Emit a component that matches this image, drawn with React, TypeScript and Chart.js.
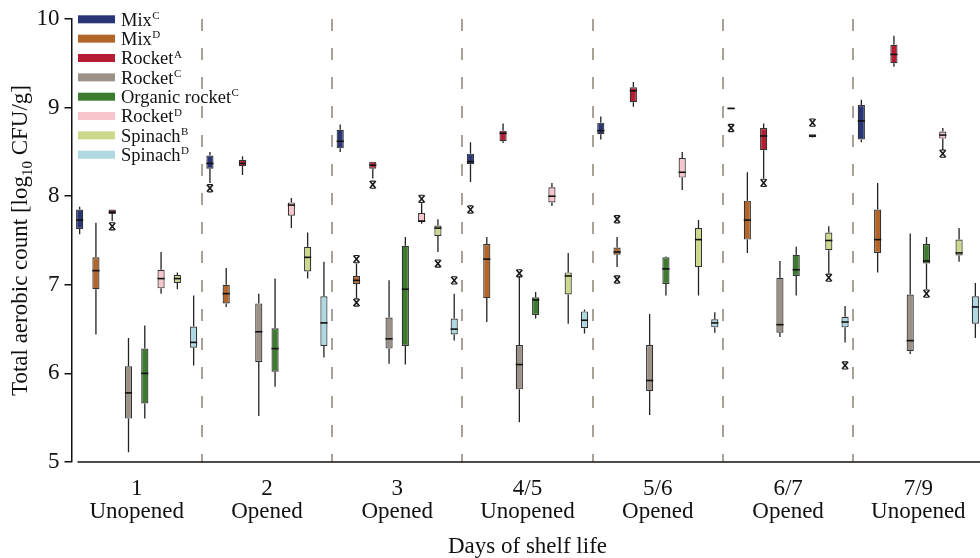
import React, { useEffect, useRef } from "react";
import { Chart, registerables } from "chart.js";

Chart.register(...registerables);

// ---------- data ----------
const dayLabels = ["1", "2", "3", "4/5", "5/6", "6/7", "7/9"];
const stateLabels = ["Unopened", "Opened", "Opened", "Unopened", "Opened", "Opened", "Unopened"];

const seriesNames = ["Mix", "Mix", "Rocket", "Rocket", "Organic rocket", "Rocket", "Spinach", "Spinach"];
const seriesSups = ["C", "D", "A", "C", "C", "D", "B", "D"];
const seriesColors = ["#2a3578", "#b4662a", "#b81c33", "#9c9186", "#3d7b2f", "#f7c5cb", "#cbd98b", "#aed8e2"];

const yTickValues = [5, 6, 7, 8, 9, 10];

// each box: [whiskerLow, q1, median, q3, whiskerHigh]
const mixC = [
  [7.57, 7.63, 7.73, 7.85, 7.88],
  [8.15, 8.31, 8.37, 8.46, 8.5],
  [8.5, 8.54, 8.62, 8.75, 8.81],
  [8.16, 8.36, 8.39, 8.48, 8.61],
  [8.64, 8.7, 8.74, 8.83, 8.9],
  [8.985, 8.985, 8.99, 9.0, 9.0],
  [8.61, 8.64, 8.85, 9.03, 9.09],
];
const mixCOut = [[], [8.09], [], [7.85], [], [8.77], []];

const mixD = [
  [6.44, 6.95, 7.16, 7.31, 7.7],
  [6.75, 6.79, 6.9, 7.0, 7.19],
  [6.85, 7.01, 7.05, 7.1, 7.24],
  [6.58, 6.85, 7.29, 7.46, 7.54],
  [7.2, 7.34, 7.37, 7.42, 7.54],
  [7.36, 7.51, 7.73, 7.95, 8.27],
  [7.14, 7.36, 7.51, 7.85, 8.15],
];
const mixDOut = [[], [], [7.29, 6.8], [], [7.74, 7.06], [], []];

const rocketA = [
  [7.72, 7.8, 7.82, 7.85, 7.85],
  [8.24, 8.34, 8.37, 8.41, 8.45],
  [8.2, 8.31, 8.35, 8.39, 8.39],
  [8.6, 8.62, 8.71, 8.74, 8.82],
  [9.01, 9.06, 9.19, 9.23, 9.29],
  [8.2, 8.52, 8.68, 8.77, 8.82],
  [9.46, 9.5, 9.6, 9.71, 9.81],
];
const rocketAOut = [[7.66], [], [8.13], [], [], [8.15], []];

const rocketC = [
  [5.11, 5.49, 5.78, 6.08, 6.4],
  [5.52, 6.13, 6.47, 6.79, 6.9],
  [6.11, 6.28, 6.39, 6.63, 7.05],
  [5.45, 5.82, 6.1, 6.32, 7.1],
  [5.53, 5.8, 5.92, 6.32, 6.67],
  [6.41, 6.46, 6.55, 7.08, 7.27],
  [6.22, 6.25, 6.37, 6.89, 7.58],
];
const rocketCOut = [[], [], [], [7.13], [], [], []];

const organicRocketC = [
  [5.49, 5.66, 6.0, 6.28, 6.54],
  [5.85, 6.02, 6.28, 6.51, 7.07],
  [6.1, 6.31, 6.95, 7.44, 7.54],
  [6.62, 6.66, 6.83, 6.86, 6.92],
  [6.88, 7.01, 7.18, 7.31, 7.32],
  [6.88, 7.1, 7.17, 7.34, 7.43],
  [6.95, 7.24, 7.27, 7.46, 7.54],
];
const organicRocketCOut = [[], [], [], [], [], [], [6.9]];

const rocketD = [
  [6.9, 6.96, 7.07, 7.17, 7.37],
  [7.64, 7.78, 7.9, 7.93, 7.98],
  [7.69, 7.71, 7.72, 7.81, 7.92],
  [7.89, 7.93, 8.0, 8.1, 8.15],
  [8.07, 8.21, 8.27, 8.43, 8.5],
  [8.66, 8.665, 8.68, 8.7, 8.7],
  [8.52, 8.65, 8.69, 8.73, 8.77],
];
const rocketDOut = [[], [], [7.97], [], [], [8.83], [8.48]];

const spinachB = [
  [6.95, 7.02, 7.07, 7.11, 7.14],
  [7.07, 7.15, 7.31, 7.43, 7.59],
  [7.37, 7.55, 7.64, 7.67, 7.74],
  [6.56, 6.89, 7.1, 7.14, 7.36],
  [6.88, 7.2, 7.51, 7.64, 7.73],
  [7.13, 7.39, 7.5, 7.59, 7.66],
  [7.26, 7.33, 7.36, 7.51, 7.64],
];
const spinachBOut = [[], [], [7.24], [], [], [7.08], []];

const spinachD = [
  [6.09, 6.29, 6.35, 6.53, 6.88],
  [6.18, 6.31, 6.57, 6.87, 7.26],
  [6.37, 6.44, 6.5, 6.62, 6.9],
  [6.45, 6.51, 6.6, 6.7, 6.72],
  [6.46, 6.52, 6.57, 6.61, 6.69],
  [6.35, 6.52, 6.58, 6.64, 6.76],
  [6.4, 6.56, 6.75, 6.87, 7.02],
];
const spinachDOut = [[], [], [7.05], [], [], [6.09], []];

const allBoxes = [mixC, mixD, rocketA, rocketC, organicRocketC, rocketD, spinachB, spinachD];
const allOutliers = [mixCOut, mixDOut, rocketAOut, rocketCOut, organicRocketCOut, rocketDOut, spinachBOut, spinachDOut];

const SERIF = "'Liberation Serif', 'Times New Roman', serif";

// ---------- plugins ----------
const boxDetails = {
  id: "boxDetails",
  afterDatasetsDraw(chart: any) {
    const ctx = chart.ctx;
    const ys = chart.scales.y;
    ctx.save();
    chart.data.datasets.forEach((_ds: any, di: number) => {
      const meta = chart.getDatasetMeta(di);
      const stats = allBoxes[di];
      const outs = allOutliers[di];
      meta.data.forEach((el: any, i: number) => {
        const { x, width } = el.getProps(["x", "width"], true);
        const [mn, q1, md, q3, mx] = stats[i];
        const pMn = ys.getPixelForValue(mn);
        const pQ1 = ys.getPixelForValue(q1);
        const pMd = ys.getPixelForValue(md);
        const pQ3 = ys.getPixelForValue(q3);
        const pMx = ys.getPixelForValue(mx);
        ctx.strokeStyle = "#222";
        ctx.lineWidth = 1.3;
        ctx.beginPath();
        if (mx > q3) {
          ctx.moveTo(x, pQ3);
          ctx.lineTo(x, pMx);
        }
        if (mn < q1) {
          ctx.moveTo(x, pQ1);
          ctx.lineTo(x, pMn);
        }
        ctx.stroke();
        ctx.lineWidth = 1.6;
        ctx.strokeStyle = "#111";
        ctx.beginPath();
        ctx.moveTo(x - width / 2, pMd);
        ctx.lineTo(x + width / 2, pMd);
        ctx.stroke();
        (outs[i] || []).forEach((v: number) => {
          const py = ys.getPixelForValue(v);
          const hw = 3, hh = 3.6;
          ctx.strokeStyle = "#1a1a1a";
          ctx.lineWidth = 1.6;
          ctx.beginPath();
          ctx.moveTo(x - hw, py - hh);
          ctx.lineTo(x + hw, py + hh);
          ctx.moveTo(x + hw, py - hh);
          ctx.lineTo(x - hw, py + hh);
          ctx.stroke();
          ctx.lineWidth = 1.1;
          ctx.beginPath();
          ctx.moveTo(x - 2.2, py - hh);
          ctx.lineTo(x + 2.2, py - hh);
          ctx.moveTo(x - 2.2, py + hh);
          ctx.lineTo(x + 2.2, py + hh);
          ctx.stroke();
        });
      });
    });
    ctx.restore();
  },
};

const decorations = {
  id: "decorations",
  afterDraw(chart: any) {
    const ctx = chart.ctx;
    const area = chart.chartArea;
    ctx.save();
    // x axis line (detached from y axis)
    ctx.strokeStyle = "#111";
    ctx.lineWidth = 1.5;
    ctx.beginPath();
    ctx.moveTo(area.left + 6, area.bottom);
    ctx.lineTo(area.right, area.bottom);
    ctx.stroke();

    // x title
    ctx.fillStyle = "#111";
    ctx.font = `23px ${SERIF}`;
    ctx.textAlign = "center";
    ctx.textBaseline = "alphabetic";
    ctx.fillText("Days of shelf life", (area.left + area.right) / 2, 553);

    // y title with subscript
    const cy = (area.top + area.bottom) / 2;
    const mainFont = `23px ${SERIF}`;
    const subFont = `15px ${SERIF}`;
    const parts = [
      { t: "Total aerobic count [log", f: mainFont, dy: 0 },
      { t: "10", f: subFont, dy: 5 },
      { t: " CFU/g]", f: mainFont, dy: 0 },
    ];
    let total = 0;
    parts.forEach((p) => {
      ctx.font = p.f;
      total += ctx.measureText(p.t).width;
    });
    ctx.translate(26.5, cy);
    ctx.rotate(-Math.PI / 2);
    ctx.textAlign = "left";
    let px = -total / 2;
    parts.forEach((p) => {
      ctx.font = p.f;
      ctx.fillText(p.t, px, p.dy);
      px += ctx.measureText(p.t).width;
    });
    ctx.setTransform(1, 0, 0, 1, 0, 0);

    // legend
    const rowY0 = 19.3;
    const rowStep = 19.35;
    seriesNames.forEach((name, i) => {
      const yc = rowY0 + i * rowStep;
      ctx.fillStyle = seriesColors[i];
      ctx.fillRect(78, yc - 4, 37, 8);
      ctx.fillStyle = "#111";
      ctx.font = `18.5px ${SERIF}`;
      ctx.textAlign = "left";
      ctx.textBaseline = "alphabetic";
      ctx.fillText(name, 121, yc + 6.2);
      const w = ctx.measureText(name).width;
      ctx.font = `11px ${SERIF}`;
      ctx.fillText(seriesSups[i], 121 + w + 0.5, yc - 0.5);
    });
    ctx.restore();
  },
};

// ---------- component ----------
export default function App() {
  const canvasRef = useRef<HTMLCanvasElement | null>(null);

  useEffect(() => {
    const canvas = canvasRef.current;
    if (!canvas) return;
    const datasets = allBoxes.map((boxes, i) => ({
      label: seriesNames[i] + seriesSups[i],
      data: boxes.map((b) => [b[1], b[3]]),
      backgroundColor: seriesColors[i],
      borderColor: "#333",
      borderWidth: 1.2,
      borderSkipped: false,
      categoryPercentage: 1.0,
      barPercentage: 0.44,
    }));
    const chart = new Chart(canvas, {
      type: "bar",
      data: {
        labels: dayLabels.map((d, i) => [d, stateLabels[i]]),
        datasets,
      },
      options: {
        animation: false,
        responsive: false,
        devicePixelRatio: 1,
        layout: { padding: { left: 0, right: 16.5, top: 19, bottom: 0 } },
        plugins: {
          legend: { display: false },
          tooltip: { enabled: false },
          title: { display: false },
        },
        scales: {
          x: {
            offset: true,
            grid: {
              offset: true,
              drawOnChartArea: true,
              drawTicks: false,
              lineWidth: 2,
              color: (c: any) => (c.index === 0 ? "rgba(0,0,0,0)" : "#aaa196"),
            },
            border: { display: false, dash: [12, 17] },
            ticks: {
              color: "#111",
              font: { family: SERIF, size: 23, lineHeight: 1.0 },
              padding: 15,
              maxRotation: 0,
              autoSkip: false,
            },
            afterFit: (s: any) => {
              s.height = 96;
            },
          },
          y: {
            min: 5,
            max: 10,
            afterBuildTicks: (s: any) => {
              s.ticks = yTickValues.map((v) => ({ value: v }));
            },
            grid: {
              drawOnChartArea: false,
              drawTicks: true,
              tickLength: 7,
              color: "#111",
              lineWidth: 1.5,
            },
            border: { display: true, color: "#111", width: 1.5 },
            ticks: {
              color: "#111",
              font: { family: SERIF, size: 23 },
              padding: 5,
            },
            afterFit: (s: any) => {
              s.width = 71.5;
            },
          },
        },
      } as any,
      plugins: [boxDetails, decorations],
    });
    return () => chart.destroy();
  }, []);

  return (
    <div
      style={{
        position: "absolute",
        left: 0,
        top: 0,
        width: 980,
        height: 558,
        overflow: "hidden",
        background: "#fff",
      }}
    >
      <canvas ref={canvasRef} width={1000} height={558} style={{ width: 1000, height: 558, display: "block" }} />
    </div>
  );
}
